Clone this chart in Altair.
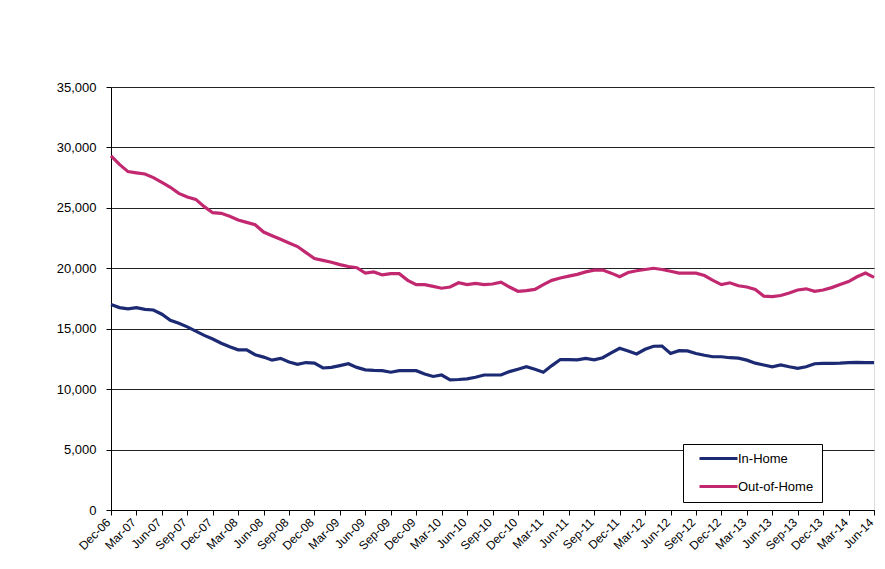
import altair as alt
import pandas as pd

month_names = ["Jan", "Feb", "Mar", "Apr", "May", "Jun", "Jul", "Aug", "Sep", "Oct", "Nov", "Dec"]
# monthly labels Dec-06 .. Jun-14
months = ["Dec-06"] + [f"{m}-{y:02d}" for y in range(7, 14) for m in month_names] + [f"{m}-14" for m in month_names[:6]]

tick_labels = months[::3]

in_home = [
    17000, 16750, 16650, 16750, 16600, 16550, 16200, 15700, 15450, 15150,
    14800, 14450, 14150, 13800, 13500, 13250, 13250, 12850, 12650, 12400,
    12550, 12250, 12050, 12200, 12150, 11750, 11800, 11950, 12100, 11800,
    11600, 11550, 11530, 11400, 11530, 11530, 11530, 11250, 11050, 11170,
    10770, 10800, 10850, 10980, 11170, 11170, 11170, 11450, 11650, 11850,
    11650, 11400, 11950, 12450, 12450, 12420, 12550, 12420, 12600, 13000,
    13380, 13150, 12910, 13300, 13550, 13570, 12950, 13180, 13160, 12950,
    12800, 12680, 12680, 12600, 12570, 12400, 12150, 12000, 11850, 12000,
    11850, 11720, 11850, 12100, 12140, 12140, 12150, 12200, 12210, 12200,
    12190,
]

out_of_home = [
    29300, 28600, 28000, 27900, 27800, 27500, 27100, 26700, 26200, 25900,
    25700, 25100, 24600, 24550, 24300, 24000, 23800, 23600, 23000, 22700,
    22400, 22100, 21800, 21300, 20800, 20650, 20500, 20300, 20150, 20050,
    19600, 19700, 19450, 19550, 19550, 19000, 18650, 18650, 18500, 18350,
    18450, 18800, 18650, 18750, 18650, 18700, 18850, 18450, 18100, 18150,
    18250, 18650, 19000, 19200, 19350, 19500, 19700, 19850, 19850, 19600,
    19300, 19650, 19800, 19900, 20000, 19900, 19750, 19600, 19600, 19600,
    19400, 19000, 18650, 18800, 18550, 18450, 18250, 17700, 17650, 17750,
    17950, 18200, 18300, 18100, 18200, 18400, 18650, 18900, 19300, 19600,
    19250,
]

series_names = ["In-Home", "Out-of-Home"]
series_colors = ["#1c2a74", "#c2286f"]
y_ticks = [0, 5000, 10000, 15000, 20000, 25000, 30000, 35000]

rows = []
for i, m in enumerate(months):
    rows.append({"month": m, "series": series_names[0], "value": in_home[i], "order": i})
    rows.append({"month": m, "series": series_names[1], "value": out_of_home[i], "order": i})
df = pd.DataFrame(rows)

chart = (
    alt.Chart(df)
    .mark_line(strokeWidth=3.2, interpolate="linear")
    .encode(
        x=alt.X(
            "month:O",
            sort=months,
            scale=alt.Scale(type="point", padding=0),
            axis=alt.Axis(
                values=tick_labels,
                title=None,
                labelAngle=-45,
                labelAlign="right",
                labelBaseline="middle",
                labelFont="Liberation Sans",
                labelFontSize=12,
                labelColor="black",
                labelPadding=5,
                labelOffset=-3,
                tickColor="black",
                tickSize=5,
                domainColor="black",
                grid=False,
            ),
        ),
        y=alt.Y(
            "value:Q",
            scale=alt.Scale(domain=[0, 35000], nice=False),
            axis=alt.Axis(
                values=y_ticks,
                format=",.0f",
                title=None,
                labelFont="Liberation Sans",
                labelFontSize=13,
                labelColor="black",
                labelPadding=10,
                tickColor="black",
                tickSize=5,
                domainColor="black",
                grid=True,
                gridColor="#222222",
                gridWidth=1,
            ),
        ),
        color=alt.Color(
            "series:N",
            scale=alt.Scale(domain=series_names, range=series_colors),
            legend=alt.Legend(
                title=None,
                orient="none",
                legendX=572,
                legendY=357,
                symbolType="M-3.8,0H3.8",
                symbolStrokeWidth=3,
                symbolSize=100,
                symbolOffset=21,
                labelFont="Liberation Sans",
                labelFontSize=13,
                labelColor="black",
                labelOffset=13,
                padding=8,
                rowPadding=14,
                strokeColor="black",
                fillColor="white",
                labelLimit=200,
            ),
        ),
        order="order:Q",
    )
    .properties(
        width=763,
        height=423,
        padding={"left": 103, "top": 79, "right": 3, "bottom": 50},
        autosize=alt.AutoSizeParams(type="none"),
    )
    .configure_view(stroke=None)
    .configure(background="white")
)

chart.save("out.html", embed_options={"renderer": "svg", "actions": False})
